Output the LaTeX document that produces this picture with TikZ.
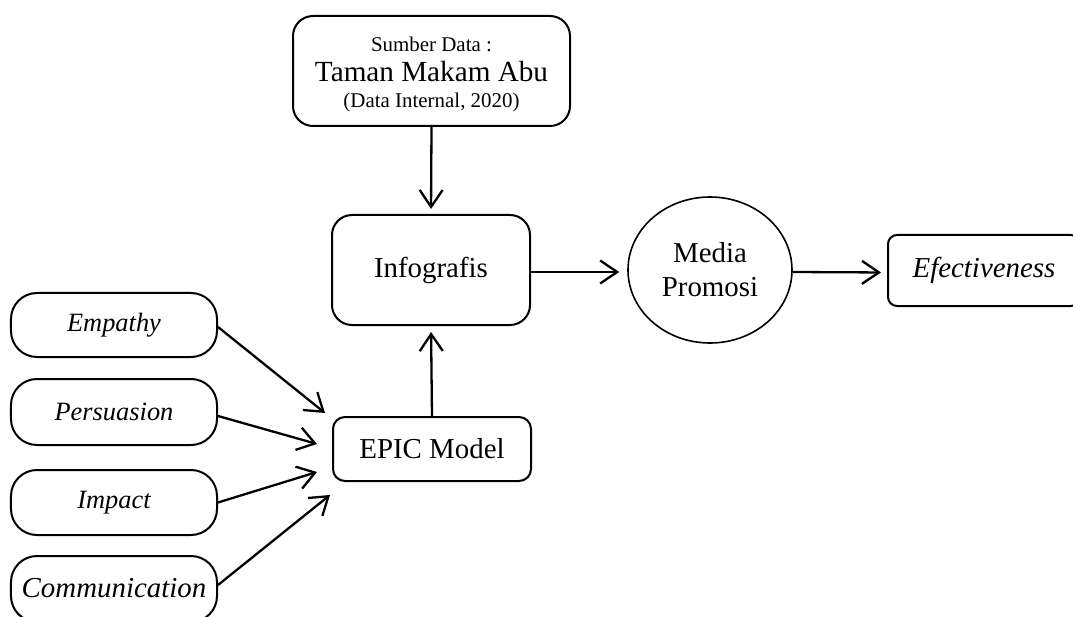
\documentclass[tikz,border=0pt]{standalone}
\usepackage{fontspec}
\setmainfont{Liberation Serif}
\usetikzlibrary{arrows.meta,shapes.geometric}

\tikzset{
  box/.style={draw, line width=2bp, rounded corners=#1, inner sep=0pt, align=center},
  box/.default=20bp,
  big/.style={font=\fontsize{29}{33}\selectfont},
  side/.style={box=26bp, minimum width=206bp, font=\fontsize{26.5}{30}\selectfont\itshape},
  arr/.style={line width=2.3bp, -{Straight Barb[length=17bp,width=23bp,line width=2.3bp]}}
}

\begin{document}
\begin{tikzpicture}[x=1bp,y=-1bp]
\useasboundingbox (0,0) rectangle (1073,617);

% data source
\node[box, minimum width=277bp, minimum height=110bp,
      font=\fontsize{21}{28}\selectfont] (src) at (431.5,71)
  {\rule{0pt}{22bp}Sumber Data :\\[2bp]
   {\fontsize{29.3}{31}\selectfont Taman Makam Abu}\\[-2bp]
   (Data Internal, 2020)};

% main chain
\node[box, big, minimum width=198bp, minimum height=110bp] (info) at (431,270) {Infografis};
\node[box=12bp, big, minimum width=198bp, minimum height=64bp] (epic) at (432,449) {EPIC Model};
\node[draw, ellipse, line width=1.6bp, big, minimum width=164bp, minimum height=146bp,
      inner sep=0pt, align=center] (media) at (710,270) {Media\\[1bp]Promosi};
\node[box=9bp, big, font=\fontsize{29}{33}\selectfont\itshape, minimum width=192bp,
      minimum height=71bp] (eff) at (984,270.5) {Efectiveness};

% EPIC components
\node[side, minimum height=64bp] (emp) at (114,325) {Empathy};
\node[side, minimum height=66bp] (per) at (114,412) {Persuasion};
\node[side, minimum height=65bp] (imp) at (114,502.5) {Impact};
\node[side, minimum height=66bp, font=\fontsize{29}{33}\selectfont\itshape] (com) at (114,589)
  {\raisebox{3bp}{Communication}};

% arrow tips in front of the EPIC box
\coordinate (t1) at (325,413);
\coordinate (t2) at (317,444);
\coordinate (t3) at (317,472);
\coordinate (t4) at (330,495);

\draw[arr, shorten >=5bp] (src.south) -- (info.north);
\draw[arr, shorten >=6bp] (epic.north) -- (info.south);
\draw[arr, shorten >=8bp] ([yshift=-2bp]info.east) -- ([yshift=-2bp]media.west);
\draw[arr, shorten >=6bp] ([yshift=-2bp]media.east) -- ([yshift=-2bp]eff.west);

\draw[arr] ([yshift=-2bp]emp.east) -- (t1);
\draw[arr] ([yshift=-4bp]per.east) -- (t2);
\draw[arr] (imp.east) -- (t3);
\draw[arr] ([yshift=4bp]com.east) -- (t4);
\end{tikzpicture}
\end{document}
